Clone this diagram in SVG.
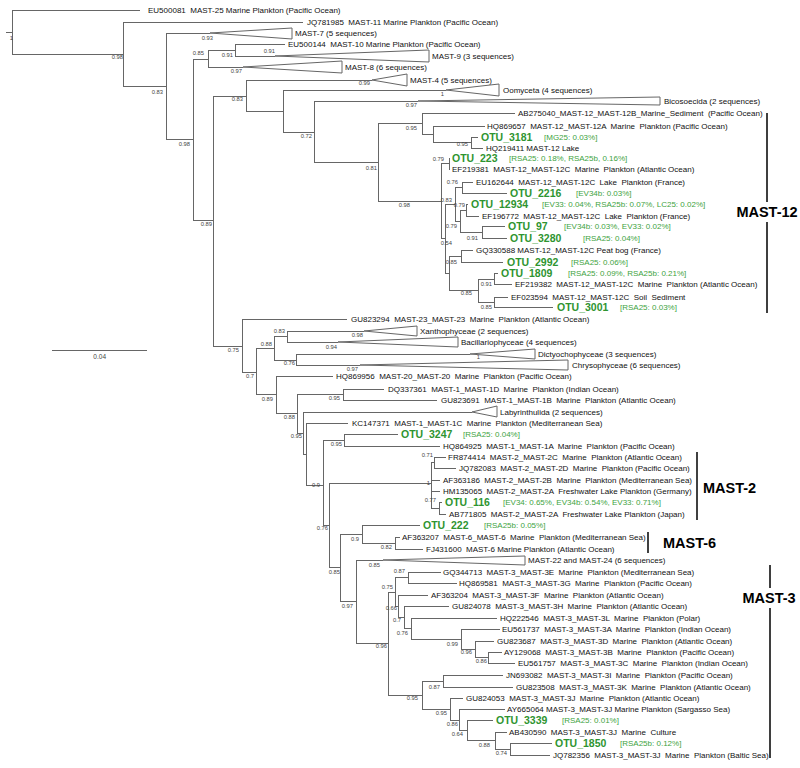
<svg xmlns="http://www.w3.org/2000/svg" width="800" height="768" viewBox="0 0 800 768">
<style>
.br{fill:none;stroke:#666;stroke-width:1;shape-rendering:crispEdges}
.tri{fill:#fff;stroke:#666;stroke-width:1}
.t{font-family:"Liberation Sans",Arial,sans-serif;font-size:8px;fill:#111;white-space:pre}
.otu{font-family:"Liberation Sans",Arial,sans-serif;font-size:10.5px;font-weight:bold;fill:#2e9430}
.an{font-family:"Liberation Sans",Arial,sans-serif;font-size:8px;fill:#3ea33e;white-space:pre}
.s{font-family:"Liberation Sans",Arial,sans-serif;font-size:5.8px;fill:#444;text-anchor:end}
.cl{font-family:"Liberation Sans",Arial,sans-serif;font-size:14.5px;font-weight:bold;fill:#000}
.bar{stroke:#000;stroke-width:1.5;fill:none}
</style>
<rect width="800" height="768" fill="#fff"/>
<g id="connectors">
<path class="br" d="M6 32H12M12 10V54M12 10H140M12 54H123M123 22V86M123 22H303M123 86H166M166 33V139M166 33H210M166 139H193M193 59V220M193 59H208M208 50V67M208 50H235M235 44V56M235 44H285M235 56H275M208 67H243M193 220H213M213 96V346M213 96H246M246 80V111M246 80H372M246 111H283M283 90V132M283 90H446M283 132H314M314 101V162M314 101H418M314 162H378M378 123V201M378 123H422M422 113V134M422 113H515M422 134H433M433 126V142M433 126H485M433 142H471M471 137V148M471 137H478M471 148H483"/>
<path class="br" d="M378 201H441M441 163V238M441 163H449M449 158V169M449 158H450M449 169H450M441 238H445M445 204V273M445 204H455M455 187V221M455 187H462M462 182V193M462 182H473M462 193H507M455 221H460M460 210V232M460 210H466M466 204V216M466 204H468M466 216H479M460 232H482M482 226V238M482 226H505M482 238H507M445 273H449M449 256V290M449 256H461M461 250V262M461 250H473M461 262H503M449 290H478M478 279V302M478 279H494M494 273V284M494 273H498M494 284H512M478 302H494M494 297V307M494 297H508M494 307H553"/>
<path class="br" d="M213 346H242M242 319V372M242 319H347M242 372H256M256 348V394M256 348H274M274 336V360M274 336H287M287 331V342M287 331H364M287 342H338M274 360H296M296 354V365M296 354H470M296 365H360M256 394H276M276 376V413M276 376H333M276 413H297M297 394V433M297 394H343M343 389V400M343 389H384M343 400H437M297 433H303M303 412V454M303 412H472M303 454H306M306 423V485M306 423H348M306 485H323M323 440V525M323 440H344M344 434V446M344 434H398M344 446H440"/>
<path class="br" d="M323 525H329M329 483V567M329 483H431M431 462V508M431 462H434M434 457V468M434 457H446M434 468H456M431 480H440M431 491H440M431 508H439M439 502V514M439 502H442M439 514H446M329 567H340M340 534V601M340 534H362M362 525V543M362 525H420M362 543H395M395 537V549M395 537H400M395 549H423M340 601H356M356 560V643M356 560H383M356 643H388M388 592V695M388 592H395M395 577V606M395 577H408M408 572V583M408 572H441M408 583H457M395 606H398M398 595V617M398 595H428M398 617H404M404 606V628M404 606H449M404 628H411M411 618V639M411 618H497M411 639H461M461 629V649M461 629H500M461 649H475M475 641V657M475 641H494M475 657H488M488 652V663M488 652H502M488 663H515"/>
<path class="br" d="M388 695H422M422 681V709M422 681H443M443 675V687M443 675H503M443 687H513M422 709H450M450 698V720M450 698H463M450 720H459M459 709V730M459 709H505M459 730H467M467 720V740M467 720H493M467 740H495M495 732V749M495 732H507M495 749H510M510 743V755M510 743H552M510 755H550"/>
<path class="br" d="M52 350H147"/>
</g>
<g id="support">
<text class="s" x="13" y="40">1</text>
<text class="s" x="123" y="59">0.98</text>
<text class="s" x="163" y="94">0.83</text>
<text class="s" x="213" y="40">0.93</text>
<text class="s" x="204" y="55">0.85</text>
<text class="s" x="233" y="57">0.91</text>
<text class="s" x="275" y="53">0.91</text>
<text class="s" x="242" y="73">0.97</text>
<text class="s" x="190" y="146">0.98</text>
<text class="s" x="243" y="101">0.83</text>
<text class="s" x="370" y="85">0.99</text>
<text class="s" x="444" y="96">1</text>
<text class="s" x="417" y="107">0.97</text>
<text class="s" x="312" y="138">0.72</text>
<text class="s" x="377" y="170">0.81</text>
<text class="s" x="417" y="130">0.95</text>
<text class="s" x="468" y="146">0.95</text>
<text class="s" x="444" y="161">0.79</text>
<text class="s" x="458" y="184">0.76</text>
<text class="s" x="452" y="202">0.83</text>
<text class="s" x="410" y="207">0.98</text>
<text class="s" x="465" y="207">0.79</text>
<text class="s" x="457" y="228">0.79</text>
<text class="s" x="478" y="240">0.91</text>
<text class="s" x="452" y="245">0.54</text>
<text class="s" x="457" y="264">0.85</text>
<text class="s" x="492" y="286">0.91</text>
<text class="s" x="472" y="295">0.85</text>
<text class="s" x="492" y="309">0.85</text>
<text class="s" x="212" y="226">0.89</text>
<text class="s" x="239" y="352">0.75</text>
<text class="s" x="285" y="333">0.83</text>
<text class="s" x="272" y="346">0.88</text>
<text class="s" x="363" y="337">0.98</text>
<text class="s" x="337" y="349">0.94</text>
<text class="s" x="295" y="365">0.76</text>
<text class="s" x="480" y="359">1</text>
<text class="s" x="358" y="371">0.97</text>
<text class="s" x="254" y="378">0.7</text>
<text class="s" x="273" y="401">0.89</text>
<text class="s" x="340" y="400">0.95</text>
<text class="s" x="295" y="419">0.88</text>
<text class="s" x="302" y="438">0.95</text>
<text class="s" x="342" y="446">0.95</text>
<text class="s" x="320" y="487">0.9</text>
<text class="s" x="433" y="457">0.71</text>
<text class="s" x="430" y="485">1</text>
<text class="s" x="436" y="502">0.77</text>
<text class="s" x="328" y="530">0.76</text>
<text class="s" x="359" y="541">0.9</text>
<text class="s" x="392" y="549">0.82</text>
<text class="s" x="340" y="574">0.85</text>
<text class="s" x="380" y="567">0.85</text>
<text class="s" x="353" y="608">0.97</text>
<text class="s" x="405" y="573">0.87</text>
<text class="s" x="393" y="589">0.75</text>
<text class="s" x="397" y="610">0.66</text>
<text class="s" x="401" y="622">0.7</text>
<text class="s" x="408" y="635">0.76</text>
<text class="s" x="387" y="648">0.96</text>
<text class="s" x="458" y="646">0.99</text>
<text class="s" x="472" y="654">0.96</text>
<text class="s" x="487" y="663">0.86</text>
<text class="s" x="440" y="689">0.87</text>
<text class="s" x="418" y="700">0.95</text>
<text class="s" x="447" y="715">0.95</text>
<text class="s" x="458" y="726">0.86</text>
<text class="s" x="463" y="736">0.64</text>
<text class="s" x="490" y="747">0.88</text>
<text class="s" x="507" y="755">0.74</text>
</g>
<g id="scale"><text class="s" x="106" y="359" style="font-size:6.5px">0.04</text></g>
<g id="n1"><text class="t" x="148" y="13">EU500081  MAST-25 Marine Plankton (Pacific Ocean)</text></g>
<g id="n2"><text class="t" x="307" y="25">JQ781985  MAST-11 Marine Plankton (Pacific Ocean)</text></g>
<g id="n3"><path class="tri" d="M210 33L292 28V39Z"/><text class="t" x="295" y="36">MAST-7 (5 sequences)</text></g>
<g id="n4"><text class="t" x="288" y="47">EU500144  MAST-10 Marine Plankton (Pacific Ocean)</text></g>
<g id="n5"><path class="tri" d="M275 56L429 50V62Z"/><text class="t" x="432" y="59">MAST-9 (3 sequences)</text></g>
<g id="n6"><path class="tri" d="M243 67L342 61V73Z"/><text class="t" x="345" y="70">MAST-8 (6 sequences)</text></g>
<g id="n7"><path class="tri" d="M372 80L407 74V86Z"/><text class="t" x="410" y="83">MAST-4 (5 sequences)</text></g>
<g id="n8"><path class="tri" d="M446 90L499 84V96Z"/><text class="t" x="503" y="93">Oomyceta (4 sequences)</text></g>
<g id="n9"><path class="tri" d="M418 101L660 97V105Z"/><text class="t" x="664" y="104">Bicosoecida (2 sequences)</text></g>
<g id="n10"><text class="t" x="518" y="116">AB275040_MAST-12_MAST-12B_Marine_Sediment  (Pacific Ocean)</text></g>
<g id="n11"><text class="t" x="487" y="129">HQ869657  MAST-12_MAST-12A  Marine  Plankton (Pacific Ocean)</text></g>
<g id="n12"><text class="otu" x="481" y="141">OTU_3181</text><text class="an" x="544" y="140">[MG25: 0.03%]</text></g>
<g id="n13"><text class="t" x="486" y="151">HQ219411 MAST-12 Lake</text></g>
<g id="n14"><text class="otu" x="452" y="162">OTU_223</text><text class="an" x="509" y="161">[RSA25: 0.18%, RSA25b, 0.16%]</text></g>
<g id="n15"><text class="t" x="452" y="172">EF219381  MAST-12_MAST-12C  Marine  Plankton (Atlantic Ocean)</text></g>
<g id="n16"><text class="t" x="476" y="185">EU162644  MAST-12_MAST-12C  Lake  Plankton (France)</text></g>
<g id="n17"><text class="otu" x="510" y="197">OTU_2216</text><text class="an" x="576" y="196">[EV34b: 0.03%]</text></g>
<g id="n18"><text class="otu" x="471" y="208">OTU_12934</text><text class="an" x="542" y="207">[EV33: 0.04%, RSA25b: 0.07%, LC25: 0.02%]</text></g>
<g id="n19"><text class="t" x="482" y="219">EF196772  MAST-12_MAST-12C  Lake  Plankton (France)</text></g>
<g id="n20"><text class="otu" x="508" y="230">OTU_97</text><text class="an" x="564" y="229">[EV34b: 0.03%, EV33: 0.02%]</text></g>
<g id="n21"><text class="otu" x="510" y="242">OTU_3280</text><text class="an" x="583" y="241">[RSA25: 0.04%]</text></g>
<g id="n22"><text class="t" x="476" y="253">GQ330588 MAST-12_MAST-12C Peat bog (France)</text></g>
<g id="n23"><text class="otu" x="507" y="266">OTU_2992</text><text class="an" x="571" y="265">[RSA25: 0.06%]</text></g>
<g id="n24"><text class="otu" x="501" y="277">OTU_1809</text><text class="an" x="568" y="276">[RSA25: 0.09%, RSA25b: 0.21%]</text></g>
<g id="n25"><text class="t" x="515" y="287">EF219382  MAST-12_MAST-12C  Marine  Plankton (Atlantic Ocean)</text></g>
<g id="n26"><text class="t" x="511" y="300">EF023594  MAST-12_MAST-12C  Soil  Sediment</text></g>
<g id="n27"><text class="otu" x="557" y="311">OTU_3001</text><text class="an" x="620" y="310">[RSA25: 0.03%]</text></g>
<g id="n28"><text class="t" x="351" y="322">GU823294  MAST-23_MAST-23  Marine  Plankton (Atlantic Ocean)</text></g>
<g id="n29"><path class="tri" d="M364 331L417 326V336Z"/><text class="t" x="420" y="334">Xanthophyceae (2 sequences)</text></g>
<g id="n30"><path class="tri" d="M338 342L458 337V347Z"/><text class="t" x="461" y="345">Bacillariophyceae (4 sequences)</text></g>
<g id="n31"><path class="tri" d="M470 354L535 349V359Z"/><text class="t" x="538" y="357">Dictyochophyceae (3 sequences)</text></g>
<g id="n32"><path class="tri" d="M360 365L568 360V370Z"/><text class="t" x="572" y="368">Chrysophyceae (6 sequences)</text></g>
<g id="n33"><text class="t" x="336" y="379">HQ869956  MAST-20_MAST-20  Marine  Plankton (Pacific Ocean)</text></g>
<g id="n34"><text class="t" x="388" y="392">DQ337361  MAST-1_MAST-1D  Marine  Plankton (Indian Ocean)</text></g>
<g id="n35"><text class="t" x="441" y="403">GU823691  MAST-1_MAST-1B  Marine  Plankton (Atlantic Ocean)</text></g>
<g id="n36"><path class="tri" d="M472 412L497 406V417Z"/><text class="t" x="500" y="415">Labyrinthulida (2 sequences)</text></g>
<g id="n37"><text class="t" x="352" y="426">KC147371  MAST-1_MAST-1C  Marine  Plankton (Mediterranean Sea)</text></g>
<g id="n38"><text class="otu" x="401" y="438">OTU_3247</text><text class="an" x="463" y="437">[RSA25: 0.04%]</text></g>
<g id="n39"><text class="t" x="443" y="449">HQ864925  MAST-1_MAST-1A  Marine  Plankton (Pacific Ocean)</text></g>
<g id="n40"><text class="t" x="448" y="460">FR874414  MAST-2_MAST-2C  Marine  Plankton (Atlantic Ocean)</text></g>
<g id="n41"><text class="t" x="459" y="471">JQ782083  MAST-2_MAST-2D  Marine  Plankton (Pacific Ocean)</text></g>
<g id="n42"><text class="t" x="443" y="483">AF363186  MAST-2_MAST-2B  Marine  Plankton (Mediterranean Sea)</text></g>
<g id="n43"><text class="t" x="443" y="494">HM135065  MAST-2_MAST-2A  Freshwater Lake Plankton (Germany)</text></g>
<g id="n44"><text class="otu" x="445" y="506">OTU_116</text><text class="an" x="503" y="505">[EV34: 0.65%, EV34b: 0.54%, EV33: 0.71%]</text></g>
<g id="n45"><text class="t" x="449" y="517">AB771805  MAST-2_MAST-2A  Freshwater Lake Plankton (Japan)</text></g>
<g id="n46"><text class="otu" x="423" y="529">OTU_222</text><text class="an" x="484" y="528">[RSA25b: 0.05%]</text></g>
<g id="n47"><text class="t" x="402" y="540">AF363207  MAST-6_MAST-6  Marine  Plankton (Mediterranean Sea)</text></g>
<g id="n48"><text class="t" x="426" y="552">FJ431600  MAST-6 Marine Plankton (Atlantic Ocean)</text></g>
<g id="n49"><path class="tri" d="M383 560L525 556V565Z"/><text class="t" x="528" y="563">MAST-22 and MAST-24 (6 sequences)</text></g>
<g id="n50"><text class="t" x="443" y="575">GQ344713  MAST-3_MAST-3E  Marine  Plankton (Mediterranean Sea)</text></g>
<g id="n51"><text class="t" x="459" y="586">HQ869581  MAST-3_MAST-3G  Marine  Plankton (Pacific Ocean)</text></g>
<g id="n52"><text class="t" x="431" y="598">AF363204  MAST-3_MAST-3F  Marine  Plankton (Atlantic Ocean)</text></g>
<g id="n53"><text class="t" x="452" y="609">GU824078  MAST-3_MAST-3H  Marine  Plankton (Atlantic Ocean)</text></g>
<g id="n54"><text class="t" x="500" y="621">HQ222546  MAST-3_MAST-3L  Marine  Plankton (Polar)</text></g>
<g id="n55"><text class="t" x="502" y="632">EU561737  MAST-3_MAST-3A  Marine  Plankton (Indian Ocean)</text></g>
<g id="n56"><text class="t" x="497" y="644">GU823687  MAST-3_MAST-3D  Marine  Plankton (Atlantic Ocean)</text></g>
<g id="n57"><text class="t" x="504" y="655">AY129068  MAST-3_MAST-3B  Marine  Plankton (Pacific Ocean)</text></g>
<g id="n58"><text class="t" x="518" y="666">EU561757  MAST-3_MAST-3C  Marine  Plankton (Indian Ocean)</text></g>
<g id="n59"><text class="t" x="506" y="678">JN693082  MAST-3_MAST-3I  Marine  Plankton (Pacific Ocean)</text></g>
<g id="n60"><text class="t" x="516" y="690">GU823508  MAST-3_MAST-3K  Marine  Plankton (Atlantic Ocean)</text></g>
<g id="n61"><text class="t" x="466" y="701">GU824053  MAST-3_MAST-3J  Marine  Plankton (Atlantic Ocean)</text></g>
<g id="n62"><text class="t" x="507" y="712">AY665064 MAST-3_MAST-3J Marine Plankton (Sargasso Sea)</text></g>
<g id="n63"><text class="otu" x="496" y="724">OTU_3339</text><text class="an" x="562" y="723">[RSA25: 0.01%]</text></g>
<g id="n64"><text class="t" x="509" y="735">AB430590  MAST-3_MAST-3J  Marine  Culture</text></g>
<g id="n65"><text class="otu" x="555" y="747">OTU_1850</text><text class="an" x="620" y="746">[RSA25b: 0.12%]</text></g>
<g id="n66"><text class="t" x="553" y="758">JQ782356  MAST-3_MAST-3J  Marine  Plankton (Baltic Sea)</text></g>
<g id="clade-MAST-12"><path class="bar" d="M767 113V202M767 222V313"/><text class="cl" x="767" y="217" text-anchor="middle">MAST-12</text></g>
<g id="clade-MAST-2"><path class="bar" d="M697 452V520"/><text class="cl" x="703" y="493">MAST-2</text></g>
<g id="clade-MAST-6"><path class="bar" d="M648 532V553"/><text class="cl" x="663" y="548">MAST-6</text></g>
<g id="clade-MAST-3"><path class="bar" d="M770 565V588M770 608V758"/><text class="cl" x="769" y="603" text-anchor="middle">MAST-3</text></g>
</svg>
